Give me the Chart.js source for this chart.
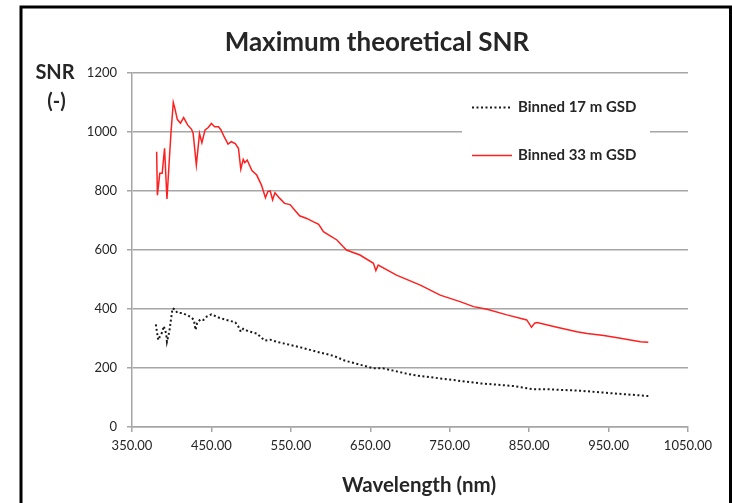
<!DOCTYPE html>
<html>
<head>
<meta charset="utf-8">
<script src="https://cdn.jsdelivr.net/npm/chart.js@4"></script>
<style>
  html, body { margin: 0; padding: 0; background: #fff; }
  #wrap { position: relative; width: 732px; height: 503px; }
</style>
</head>
<body>
<div id="wrap"><canvas id="myChart" width="732" height="503"></canvas></div>
<script>
// dades llegides del grafic
const chartTitle = 'Maximum theoretical SNR';
const xTitle = 'Wavelength (nm)';
const yTitle = ['SNR', '(-)'];
const seriesNames = ['Binned 17 m GSD', 'Binned 33 m GSD'];

const xTicks = [350, 450, 550, 650, 750, 850, 950, 1050];
const yTicks = [0, 200, 400, 600, 800, 1000, 1200];

// Binned 17 m GSD
const wl17 = [380, 381, 383, 386, 388, 390, 393, 394, 397, 399, 401, 404, 407, 413, 419, 425, 428, 430, 432, 436,
  440, 444, 450, 459, 469, 480, 484, 487, 490, 496, 507, 517, 524, 532, 545, 562, 583, 604, 618, 654,
  666, 704, 746, 788, 830, 855, 872, 914, 956, 1000];
const snr17 = [348, 329, 295, 312, 321, 342, 317, 289, 323, 363, 402, 399, 387, 386, 380, 371, 362, 329, 352, 365,
  363, 374, 382, 371, 363, 355, 340, 323, 333, 325, 317, 293, 296, 289, 281, 270, 255, 241, 225, 199,
  199, 176, 162, 148, 139, 128, 128, 123, 114, 105];

// Binned 33 m GSD
const wl33 = [381, 382, 385, 388, 391, 394, 399, 402, 404, 407, 411, 415, 420, 425, 427, 431, 435, 438, 442, 446,
  450, 454, 459, 462, 466, 471, 475, 480, 484, 487, 490, 492, 495, 501, 507, 513, 518, 521, 524, 527,
  530, 536, 542, 549, 555, 561, 570, 578, 585, 591, 599, 608, 616, 620, 637, 654, 657, 660, 683, 713,
  738, 763, 780, 797, 822, 847, 853, 857, 860, 885, 910, 923, 944, 965, 990, 1000];
const snr33 = [933, 786, 860, 860, 945, 773, 995, 1100, 1080, 1043, 1030, 1049, 1024, 1009, 995, 888, 995, 964, 1007, 1015,
  1029, 1018, 1018, 1007, 984, 959, 967, 961, 945, 874, 907, 896, 905, 869, 854, 820, 777, 798, 800, 770,
  794, 775, 758, 754, 735, 716, 707, 696, 687, 662, 649, 634, 611, 600, 583, 555, 530, 549, 515, 481,
  447, 425, 408, 399, 380, 363, 338, 352, 354, 338, 323, 317, 310, 301, 289, 287];

const toPoints = (xs, ys) => xs.map((x, i) => ({ x: x, y: ys[i] }));

const gridColor = '#a6a6a6';
const textColor = '#262626';
const fontName = 'Lato, "Open Sans", sans-serif';

// textos i marc dibuixats sobre el canvas
const decorPlugin = {
  id: 'decor',
  afterDraw(chart) {
    const ctx = chart.ctx;
    ctx.save();
    // marc negre
    ctx.strokeStyle = '#000';
    ctx.lineWidth = 3;
    ctx.beginPath();
    ctx.moveTo(21, 520);
    ctx.lineTo(21, 7);
    ctx.lineTo(730.5, 7);
    ctx.lineTo(730.5, 520);
    ctx.stroke();

    ctx.fillStyle = textColor;
    ctx.textAlign = 'center';
    ctx.textBaseline = 'middle';
    ctx.font = 'bold 26px ' + fontName;
    ctx.fillText(chartTitle, 377, 43);

    ctx.font = 'bold 20px ' + fontName;
    ctx.fillText(yTitle[0], 55, 73);
    ctx.fillText(yTitle[1], 56.5, 102);

    ctx.font = 'bold 20.5px ' + fontName;
    ctx.fillText(xTitle, 419, 485);

    // llegenda dins l'area del grafic
    ctx.fillStyle = '#fff';
    ctx.fillRect(462, 92, 188, 80);
    const rows = [107.5, 155.5];
    chart.data.datasets.forEach((ds, i) => {
      ctx.strokeStyle = ds.borderColor;
      ctx.lineWidth = ds.borderWidth;
      ctx.setLineDash(ds.borderDash || []);
      ctx.beginPath();
      ctx.moveTo(472, rows[i]);
      ctx.lineTo(512, rows[i]);
      ctx.stroke();
      ctx.setLineDash([]);
      ctx.fillStyle = textColor;
      ctx.textAlign = 'left';
      ctx.font = 'bold 15px ' + fontName;
      ctx.fillText(ds.label, 518, rows[i]);
    });
    ctx.restore();
  }
};

const ctx = document.getElementById('myChart').getContext('2d');
new Chart(ctx, {
  type: 'line',
  data: {
    datasets: [{
      label: seriesNames[0],
      data: toPoints(wl17, snr17),
      borderColor: '#1a1a1a',
      borderWidth: 2,
      borderDash: [2, 2.5],
      pointRadius: 0,
      tension: 0
    }, {
      label: seriesNames[1],
      data: toPoints(wl33, snr33),
      borderColor: '#ff1f1f',
      borderWidth: 1.5,
      pointRadius: 0,
      tension: 0
    }]
  },
  options: {
    responsive: false,
    animation: false,
    layout: { padding: { top: 73, right: 44, bottom: 0, left: 0 } },
    plugins: {
      legend: { display: false },
      title: { display: false },
      tooltip: { enabled: false }
    },
    scales: {
      x: {
        type: 'linear',
        min: xTicks[0],
        max: xTicks[xTicks.length - 1],
        afterBuildTicks: s => { s.ticks = xTicks.map(v => ({ value: v })); },
        afterFit: s => { s.height = 76; },
        ticks: {
          callback: v => Number(v).toFixed(2),
          color: textColor,
          font: { family: fontName, size: 13 },
          padding: 6,
          maxRotation: 0
        },
        grid: { drawOnChartArea: false, color: gridColor, tickLength: 5, lineWidth: 1.5 },
        border: { color: gridColor, width: 1.5 }
      },
      y: {
        min: yTicks[0],
        max: yTicks[yTicks.length - 1],
        afterBuildTicks: s => { s.ticks = yTicks.map(v => ({ value: v })); },
        afterFit: s => { s.width = 132; },
        ticks: {
          callback: v => String(v),
          color: textColor,
          font: { family: fontName, size: 13 },
          padding: 10
        },
        grid: { color: gridColor, tickLength: 5, lineWidth: 1.5 },
        border: { color: gridColor, width: 1.5 }
      }
    }
  },
  plugins: [decorPlugin]
});
</script>
</body>
</html>
